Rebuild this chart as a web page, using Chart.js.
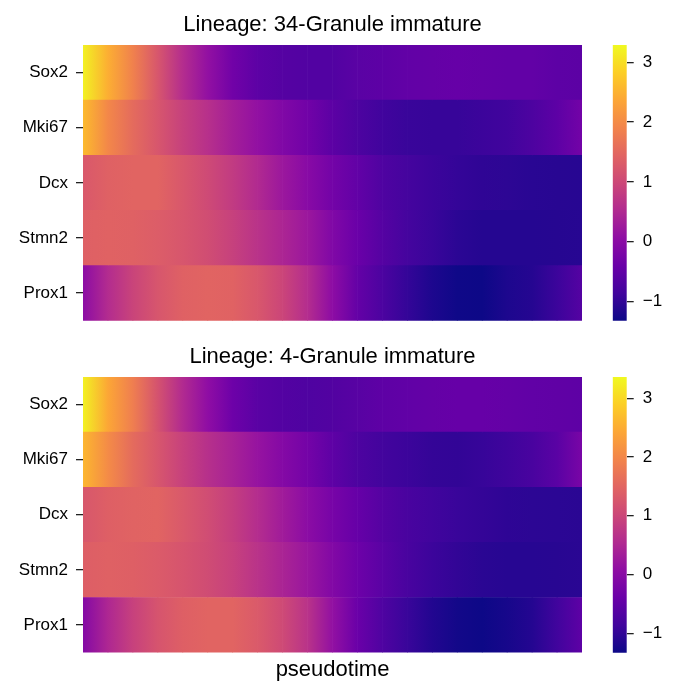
<!DOCTYPE html>
<html>
<head>
<meta charset="utf-8">
<script src="https://cdn.jsdelivr.net/npm/chart.js@4.4.1/dist/chart.umd.min.js"></script>
<style>
    body { margin: 0; background: #fff; width: 678px; height: 698px; position: relative; overflow: hidden; }
    canvas { position: absolute; }
</style>
</head>
<body>
<canvas id="heat34" width="582" height="330" style="left:0px;top:0px"></canvas>
<canvas id="cbar34" width="88" height="330" style="left:590px;top:0px"></canvas>
<canvas id="heat4" width="582" height="366" style="left:0px;top:332px"></canvas>
<canvas id="cbar4" width="88" height="366" style="left:590px;top:332px"></canvas>
<script>
const genes = ['Sox2', 'Mki67', 'Dcx', 'Stmn2', 'Prox1'];
// pseudotime sample points (bins) along the x axis
const pseudotime = [0, 1, 2, 3, 4, 5, 6, 7, 8, 9, 10, 11, 12, 13, 14, 15, 16, 17, 18, 19, 20];
const colorbarTicks = [-1, 0, 1, 2, 3];

// Lineage: 34-Granule immature
const sox2_34  = [3.20, 2.46, 1.86, 1.22, 0.57, 0.11, -0.31, -0.54, -0.63, -0.67, -0.67, -0.58, -0.54, -0.49, -0.47, -0.44, -0.47, -0.49, -0.49, -0.54, -0.56];
const mki67_34 = [2.60, 1.95, 1.54, 1.22, 0.89, 0.62, 0.34, 0.11, -0.12, -0.31, -0.56, -0.72, -0.86, -0.93, -0.95, -0.95, -0.90, -0.86, -0.72, -0.54, -0.28];
const dcx_34   = [1.26, 1.40, 1.45, 1.45, 1.24, 1.03, 0.80, 0.52, 0.22, -0.03, -0.28, -0.49, -0.70, -0.81, -0.90, -0.97, -1.02, -1.04, -1.07, -1.08, -1.09];
const stmn2_34 = [1.38, 1.42, 1.40, 1.33, 1.22, 1.08, 0.89, 0.66, 0.45, 0.22, -0.12, -0.40, -0.63, -0.81, -0.93, -1.05, -1.11, -1.11, -1.11, -1.10, -1.09];
const prox1_34 = [0.02, 0.55, 0.94, 1.22, 1.40, 1.45, 1.42, 1.24, 0.96, 0.57, 0.04, -0.47, -0.74, -0.97, -1.18, -1.30, -1.32, -1.18, -1.11, -0.90, -0.63];
const range_34 = [-1.32, 3.29];

// Lineage: 4-Granule immature
const sox2_4  = [3.27, 2.42, 1.86, 1.20, 0.55, 0.08, -0.35, -0.58, -0.65, -0.70, -0.67, -0.60, -0.53, -0.49, -0.46, -0.44, -0.44, -0.46, -0.49, -0.51, -0.53];
const mki67_4 = [2.61, 2.05, 1.58, 1.25, 0.92, 0.64, 0.41, 0.17, -0.06, -0.27, -0.53, -0.72, -0.84, -0.91, -0.98, -1.00, -0.95, -0.88, -0.77, -0.58, -0.20];
const dcx_4   = [1.27, 1.41, 1.46, 1.48, 1.30, 1.11, 0.87, 0.59, 0.31, 0.03, -0.23, -0.44, -0.63, -0.77, -0.86, -0.93, -0.98, -1.03, -1.05, -1.06, -1.07];
const stmn2_4 = [1.39, 1.44, 1.41, 1.34, 1.23, 1.09, 0.92, 0.69, 0.45, 0.22, -0.09, -0.35, -0.58, -0.77, -0.91, -1.00, -1.07, -1.10, -1.10, -1.09, -1.07];
const prox1_4 = [-0.06, 0.50, 0.92, 1.23, 1.41, 1.48, 1.48, 1.32, 1.06, 0.69, 0.12, -0.39, -0.70, -0.93, -1.14, -1.28, -1.33, -1.24, -1.12, -0.86, -0.53];
const range_4 = [-1.33, 3.36];

const plasmaStops = ['#0d0887', '#41049d', '#6a00a8', '#8f0da4', '#b12a90', '#cc4778',
                     '#e16462', '#f2844b', '#fca636', '#fcce25', '#f0f921'];

Chart.defaults.font.family = '"Liberation Sans", Arial, sans-serif';
Chart.defaults.color = '#000';

function hexToRgb(h) {
    return [parseInt(h.slice(1, 3), 16), parseInt(h.slice(3, 5), 16), parseInt(h.slice(5, 7), 16)];
}

function plasma(t) {
    t = Math.min(1, Math.max(0, t));
    const p = t * (plasmaStops.length - 1);
    const i = Math.min(Math.floor(p), plasmaStops.length - 2);
    const f = p - i;
    const a = hexToRgb(plasmaStops[i]), b = hexToRgb(plasmaStops[i + 1]);
    const c = a.map((v, k) => Math.round(v + (b[k] - v) * f));
    return 'rgb(' + c.join(',') + ')';
}

// keep the axis from pushing the plot area in for half a label height
function noEdgePadding(scale) {
    scale.paddingTop = 0;
    scale.paddingBottom = 0;
}

function heatmap(id, title, rows, range, showXLabel) {
    const [vmin, vmax] = range;
    const norm = v => (v - vmin) / (vmax - vmin);

    // one dataset per pseudotime segment, one bar per gene
    const datasets = pseudotime.slice(0, -1).map((t, i) => ({
        data: genes.map(() => [pseudotime[i], pseudotime[i + 1]]),
        grouped: false,
        barPercentage: 1,
        categoryPercentage: 1,
        borderWidth: 0,
        backgroundColor: function(ctx) {
            const chart = ctx.chart;
            if (!chart.chartArea || ctx.dataIndex === undefined) return '#fff';
            const xs = chart.scales.x;
            const x0 = xs.getPixelForValue(pseudotime[i]);
            const x1 = xs.getPixelForValue(pseudotime[i + 1]);
            const row = rows[ctx.dataIndex];
            const g = chart.ctx.createLinearGradient(x0, 0, x1, 0);
            g.addColorStop(0, plasma(norm(row[i])));
            g.addColorStop(1, plasma(norm(row[i + 1])));
            return g;
        }
    }));

    return new Chart(document.getElementById(id), {
        type: 'bar',
        data: { labels: genes, datasets: datasets },
        options: {
            indexAxis: 'y',
            responsive: false,
            animation: false,
            layout: { padding: { left: 0, right: 0, top: 0, bottom: showXLabel ? 0 : 9.3 } },
            plugins: {
                legend: { display: false },
                tooltip: { enabled: false },
                title: {
                    display: true,
                    text: title,
                    fullSize: false,
                    font: { size: 22, weight: 'normal' },
                    padding: { top: 11.3, bottom: 7.3 }
                }
            },
            scales: {
                x: {
                    type: 'linear',
                    min: pseudotime[0],
                    max: pseudotime[pseudotime.length - 1],
                    display: showXLabel,
                    ticks: { display: false },
                    grid: { display: false, drawTicks: false },
                    border: { display: false },
                    title: {
                        display: showXLabel,
                        text: 'pseudotime',
                        font: { size: 22 },
                        padding: { top: 4, bottom: 15 }
                    }
                },
                y: {
                    type: 'category',
                    offset: true,
                    afterFit: scale => { scale.width = 83; noEdgePadding(scale); },
                    ticks: { font: { size: 17 }, padding: 8 },
                    grid: { offset: false, drawOnChartArea: false, drawTicks: true, tickLength: 7, color: '#222', lineWidth: 1.3 },
                    border: { display: false }
                }
            }
        }
    });
}

function colorbar(id, range, bottomPad) {
    const [vmin, vmax] = range;
    return new Chart(document.getElementById(id), {
        type: 'bar',
        data: {
            labels: [''],
            datasets: [{
                data: [[vmin, vmax]],
                barPercentage: 1,
                categoryPercentage: 1,
                borderWidth: 0,
                backgroundColor: function(ctx) {
                    const chart = ctx.chart;
                    if (!chart.chartArea) return '#fff';
                    const ys = chart.scales.y;
                    const g = chart.ctx.createLinearGradient(0, ys.getPixelForValue(vmin), 0, ys.getPixelForValue(vmax));
                    plasmaStops.forEach((c, k) => g.addColorStop(k / (plasmaStops.length - 1), c));
                    return g;
                }
            }]
        },
        options: {
            responsive: false,
            animation: false,
            layout: { padding: { left: 22.7, right: 0, top: 45, bottom: bottomPad } },
            plugins: { legend: { display: false }, tooltip: { enabled: false } },
            scales: {
                x: { display: false },
                y: {
                    type: 'linear',
                    position: 'right',
                    min: vmin,
                    max: vmax,
                    afterFit: scale => { scale.width = 51.3; noEdgePadding(scale); },
                    afterBuildTicks: scale => { scale.ticks = colorbarTicks.map(v => ({ value: v })); },
                    ticks: {
                        font: { size: 17 },
                        padding: 9,
                        callback: v => String(v).replace('-', '\u2212')
                    },
                    grid: { drawOnChartArea: false, drawTicks: true, tickLength: 7, color: '#222', lineWidth: 1.3 },
                    border: { display: false }
                }
            }
        }
    });
}

heatmap('heat34', 'Lineage: 34-Granule immature', [sox2_34, mki67_34, dcx_34, stmn2_34, prox1_34], range_34, false);
colorbar('cbar34', range_34, 9.3);
heatmap('heat4', 'Lineage: 4-Granule immature', [sox2_4, mki67_4, dcx_4, stmn2_4, prox1_4], range_4, true);
colorbar('cbar4', range_4, 45.3);
</script>
</body>
</html>
